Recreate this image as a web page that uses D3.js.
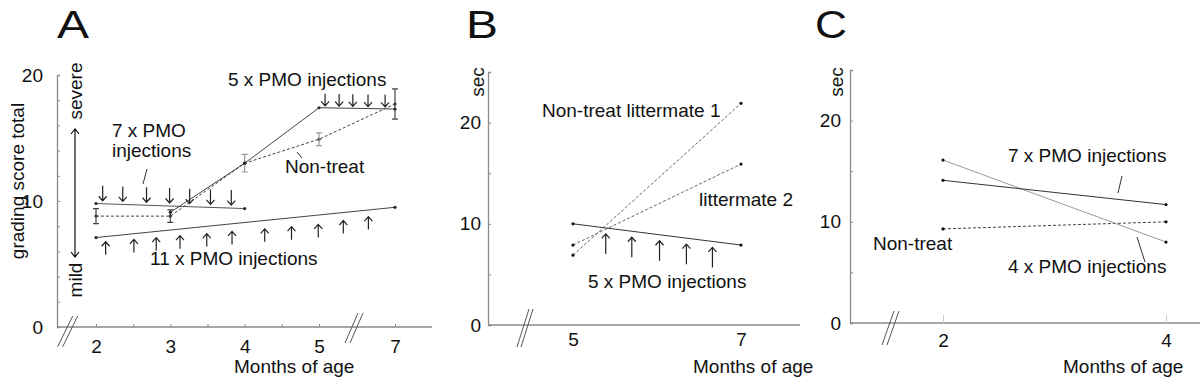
<!DOCTYPE html>
<html>
<head>
<meta charset="utf-8">
<script src="https://cdn.jsdelivr.net/npm/d3@7"></script>
<style>
  body { margin: 0; background: #fff; }
  text { font-family: Arial, "Liberation Sans", sans-serif; fill: #111; }
</style>
</head>
<body>
<div id="chart"></div>
<script>
// ---- panel A data (grading score) ----
const monthsA = [2, 3, 4, 5, 7];
const nonTreatA = [8.8, 8.8, 13.0, 14.9, 17.7];
const nonTreatErrA = [0.6, 0.5, 0.7, 0.5, 1.2];
const pmo7MonthsA = [2, 4];
const pmo7A = [9.8, 9.4];
const pmo5MonthsA = [3, 4, 5, 7];
const pmo5A = [9.1, 13.0, 17.4, 17.3];
const pmo11MonthsA = [2, 7];
const pmo11A = [7.1, 9.5];
const inj7A = [2.09, 2.36, 2.68, 2.99, 3.26, 3.54, 3.82];
const inj5A = [5.16, 5.53, 5.89, 6.29, 6.74];
const inj11A = [2.13, 2.51, 2.81, 3.13, 3.49, 3.83, 4.27, 4.63, 4.99, 5.64, 6.30];
const xTicksA = [2, 2.5, 3, 3.5, 4, 4.5, 5, 7];
const xLabelsA = [2, 3, 4, 5, 7];

// ---- panel B data (sec) ----
const monthsB = [5, 7];
const littermate1B = [6.9, 21.9];
const littermate2B = [7.9, 15.9];
const pmo5B = [10.0, 7.9];
const inj5B = [5.39, 5.70, 6.03, 6.35, 6.66];

// ---- panel C data (sec) ----
const monthsC = [2, 4];
const pmo7C = [14.1, 11.7];
const pmo4C = [16.1, 8.0];
const nonTreatC = [9.3, 10.0];

const ySecTicks = [0, 5, 10, 15, 20, 25];
const ySecLabels = [0, 10, 20];

const svg = d3.select('#chart').append('svg')
    .attr('width', 1200).attr('height', 383);

const axisColor = '#8a8a8a';
const fontSize = 19;

function styleAxis(g) {
    g.select('.domain').attr('stroke', axisColor).attr('stroke-width', 1.3);
    g.selectAll('.tick line').attr('stroke', axisColor);
    g.selectAll('.tick text').attr('font-size', fontSize).attr('fill', '#111')
        .attr('font-family', 'Arial, "Liberation Sans", sans-serif');
}

function drawLine(g, x, y, xs, ys, opts) {
    const line = d3.line().x((d) => x(d[0])).y((d) => y(d[1]));
    g.append('path')
        .datum(xs.map((m, i) => [m, ys[i]]))
        .attr('fill', 'none')
        .attr('stroke', opts.color || '#333')
        .attr('stroke-width', opts.width || 1)
        .attr('stroke-dasharray', opts.dash || null)
        .attr('d', line);
    g.selectAll(null)
        .data(xs.map((m, i) => [m, ys[i]]))
        .enter().append('circle')
        .attr('cx', (d) => x(d[0]))
        .attr('cy', (d) => y(d[1]))
        .attr('r', 1.6)
        .attr('fill', opts.dot || '#223');
}

// arrow at month m; dir = 1 pointing down (tip at bottom), -1 pointing up
function drawArrows(g, x, y, xs, ys, inj, dir, gap, len, color) {
    const lineY = d3.scaleLinear().domain(xs).range(ys.map((v) => y(v)));
    inj.forEach((m) => {
        const px = x(m);
        const tip = dir === 1 ? lineY(m) - gap : lineY(m) + gap;
        const tail = dir === 1 ? tip - len : tip + len;
        const h = 4.5 * -dir;
        g.append('path')
            .attr('d', `M${px},${tail}L${px},${tip}M${px - 4},${tip + h}L${px},${tip}L${px + 4},${tip + h}`)
            .attr('fill', 'none')
            .attr('stroke', color || '#222')
            .attr('stroke-width', 1.2);
    });
}

function breakMark(g, x0, y0, x1, y1, dx) {
    [0, dx].forEach((o) => {
        g.append('line')
            .attr('x1', x0 + o).attr('y1', y0)
            .attr('x2', x1 + o).attr('y2', y1)
            .attr('stroke', '#555').attr('stroke-width', 1);
    });
}

function addText(g, x, y, str, opts = {}) {
    const t = g.append('text')
        .attr('x', x).attr('y', y)
        .attr('font-size', opts.size || fontSize)
        .attr('text-anchor', opts.anchor || 'start')
        .text(str);
    if (opts.rotate) {
        t.attr('transform', `rotate(-90,${x},${y})`)
            .attr('dominant-baseline', 'central');
    }
    return t;
}

function panelLetter(g, x, str) {
    g.append('text')
        .attr('x', x).attr('y', 38)
        .attr('font-size', 39)
        .attr('textLength', 32)
        .attr('lengthAdjust', 'spacingAndGlyphs')
        .text(str);
}

function leader(g, x1, y1, x2, y2) {
    g.append('line').attr('x1', x1).attr('y1', y1).attr('x2', x2).attr('y2', y2)
        .attr('stroke', '#333').attr('stroke-width', 1);
}

// ================= Panel A =================
(function () {
    const g = svg.append('g');
    const x = d3.scaleLinear().domain([2, 5, 7]).range([96, 319, 395]);
    const y = d3.scaleLinear().domain([0, 20]).range([327, 75]);

    // x axis line runs past the 7 tick
    g.append('line').attr('x1', 57).attr('x2', 432).attr('y1', 327).attr('y2', 327)
        .attr('stroke', axisColor).attr('stroke-width', 1.3);
    const xa = g.append('g').attr('transform', 'translate(0,327)')
        .call(d3.axisBottom(x).tickValues(xTicksA).tickSize(-3).tickPadding(13)
            .tickFormat((d) => (xLabelsA.includes(d) ? d : '')));
    styleAxis(xa);
    xa.select('.domain').remove();

    const ya = g.append('g').attr('transform', 'translate(57,0)')
        .call(d3.axisLeft(y).tickValues(d3.range(0, 21, 2)).tickSize(-3).tickPadding(14)
            .tickFormat((d) => ([0, 10, 20].includes(d) ? d : '')));
    styleAxis(ya);

    breakMark(g, 57.7, 346.7, 72.7, 316, 5);
    breakMark(g, 345, 343, 358, 313, 5);

    // non-treat with error bars
    drawLine(g, x, y, monthsA, nonTreatA, { dash: '3,2', color: '#444' });
    monthsA.forEach((m, i) => {
        const px = x(m);
        const top = y(nonTreatA[i] + nonTreatErrA[i]);
        const bot = y(nonTreatA[i] - nonTreatErrA[i]);
        const c = i === 2 || i === 3 ? '#999' : '#444';
        g.append('path')
            .attr('d', `M${px - 3},${top}H${px + 3}M${px},${top}V${bot}M${px - 3},${bot}H${px + 3}`)
            .attr('fill', 'none').attr('stroke', c).attr('stroke-width', 1.2);
    });

    drawLine(g, x, y, pmo7MonthsA, pmo7A, { color: '#555' });
    drawLine(g, x, y, pmo5MonthsA, pmo5A, { color: '#444' });
    drawLine(g, x, y, pmo11MonthsA, pmo11A, { color: '#444' });

    drawArrows(g, x, y, pmo7MonthsA, pmo7A, inj7A, 1, 3, 15);
    drawArrows(g, x, y, [5, 7], [17.4, 17.3], inj5A, 1, 2, 12);
    drawArrows(g, x, y, pmo11MonthsA, pmo11A, inj11A, -1, 5, 13);

    panelLetter(g, 57, 'A');
    addText(g, 17, 181, 'grading score total', { rotate: true, anchor: 'middle' });
    addText(g, 75, 91, 'severe', { rotate: true, anchor: 'middle' });
    addText(g, 75, 280, 'mild', { rotate: true, anchor: 'middle' });
    g.append('path')
        .attr('d', 'M75,129V257M71,134L75,129L79,134M71,252L75,257L79,252')
        .attr('fill', 'none').attr('stroke', '#111').attr('stroke-width', 1.2);

    addText(g, 112, 137, '7 x PMO');
    addText(g, 112, 157, 'injections');
    leader(g, 147, 169, 143, 184);
    addText(g, 228, 86, '5 x PMO injections');
    addText(g, 285, 173, 'Non-treat');
    leader(g, 297, 152, 302, 158);
    addText(g, 150, 265, '11 x PMO injections');
    addText(g, 234, 373, 'Months of age');
})();

// ================= Panel B =================
(function () {
    const g = svg.append('g');
    const x = d3.scaleLinear().domain([5, 7]).range([573, 741]);
    const y = d3.scaleLinear().domain([0, 25]).range([325, 72]);

    g.append('line').attr('x1', 488).attr('x2', 800).attr('y1', 325).attr('y2', 325)
        .attr('stroke', axisColor).attr('stroke-width', 1.3);
    const xa = g.append('g').attr('transform', 'translate(0,325)')
        .call(d3.axisBottom(x).tickValues(monthsB).tickSize(0).tickPadding(8)
            .tickFormat(d3.format('d')));
    styleAxis(xa);
    xa.select('.domain').remove();

    const ya = g.append('g').attr('transform', 'translate(488,0)')
        .call(d3.axisLeft(y).tickValues(ySecTicks).tickSize(-3).tickPadding(7)
            .tickFormat((d) => (ySecLabels.includes(d) ? d : '')));
    styleAxis(ya);

    breakMark(g, 517, 347, 529, 309, 4);

    drawLine(g, x, y, monthsB, littermate1B, { dash: '3,2', color: '#666', dot: '#111' });
    drawLine(g, x, y, monthsB, littermate2B, { dash: '3,2', color: '#666', dot: '#111' });
    drawLine(g, x, y, monthsB, pmo5B, { color: '#333', dot: '#111' });
    drawArrows(g, x, y, monthsB, pmo5B, inj5B, -1, 6, 20);

    panelLetter(g, 466, 'B');
    addText(g, 477, 82, 'sec', { rotate: true, anchor: 'middle' });
    addText(g, 542, 117, 'Non-treat littermate 1');
    addText(g, 699, 206, 'littermate 2');
    addText(g, 588, 288, '5 x PMO injections');
    addText(g, 693, 373, 'Months of age');
})();

// ================= Panel C =================
(function () {
    const g = svg.append('g');
    const x = d3.scaleLinear().domain([2, 4]).range([943, 1166]);
    const y = d3.scaleLinear().domain([0, 25]).range([323, 70]);

    g.append('line').attr('x1', 850).attr('x2', 1200).attr('y1', 323).attr('y2', 323)
        .attr('stroke', axisColor).attr('stroke-width', 1.3);
    const xa = g.append('g').attr('transform', 'translate(0,323)')
        .call(d3.axisBottom(x).tickValues(monthsC).tickSize(-8).tickPadding(11)
            .tickFormat(d3.format('d')));
    styleAxis(xa);
    xa.select('.domain').remove();
    xa.selectAll('.tick line').attr('stroke', '#ccc');

    const ya = g.append('g').attr('transform', 'translate(850,0)')
        .call(d3.axisLeft(y).tickValues(ySecTicks).tickSize(-3).tickPadding(9)
            .tickFormat((d) => (ySecLabels.includes(d) ? d : '')));
    styleAxis(ya);

    breakMark(g, 882, 345, 894, 311, 5);

    drawLine(g, x, y, monthsC, nonTreatC, { dash: '3,2', color: '#444', dot: '#111' });
    drawLine(g, x, y, monthsC, pmo4C, { color: '#999', dot: '#111' });
    drawLine(g, x, y, monthsC, pmo7C, { color: '#333', dot: '#111' });

    panelLetter(g, 815, 'C');
    addText(g, 836, 82, 'sec', { rotate: true, anchor: 'middle' });
    addText(g, 1008, 162, '7 x PMO injections');
    leader(g, 1122, 176, 1118, 193);
    addText(g, 873, 250, 'Non-treat');
    addText(g, 1008, 273, '4 x PMO injections');
    leader(g, 1137, 237, 1145, 262);
    addText(g, 1063, 373, 'Months of age');
})();
</script>
</body>
</html>
